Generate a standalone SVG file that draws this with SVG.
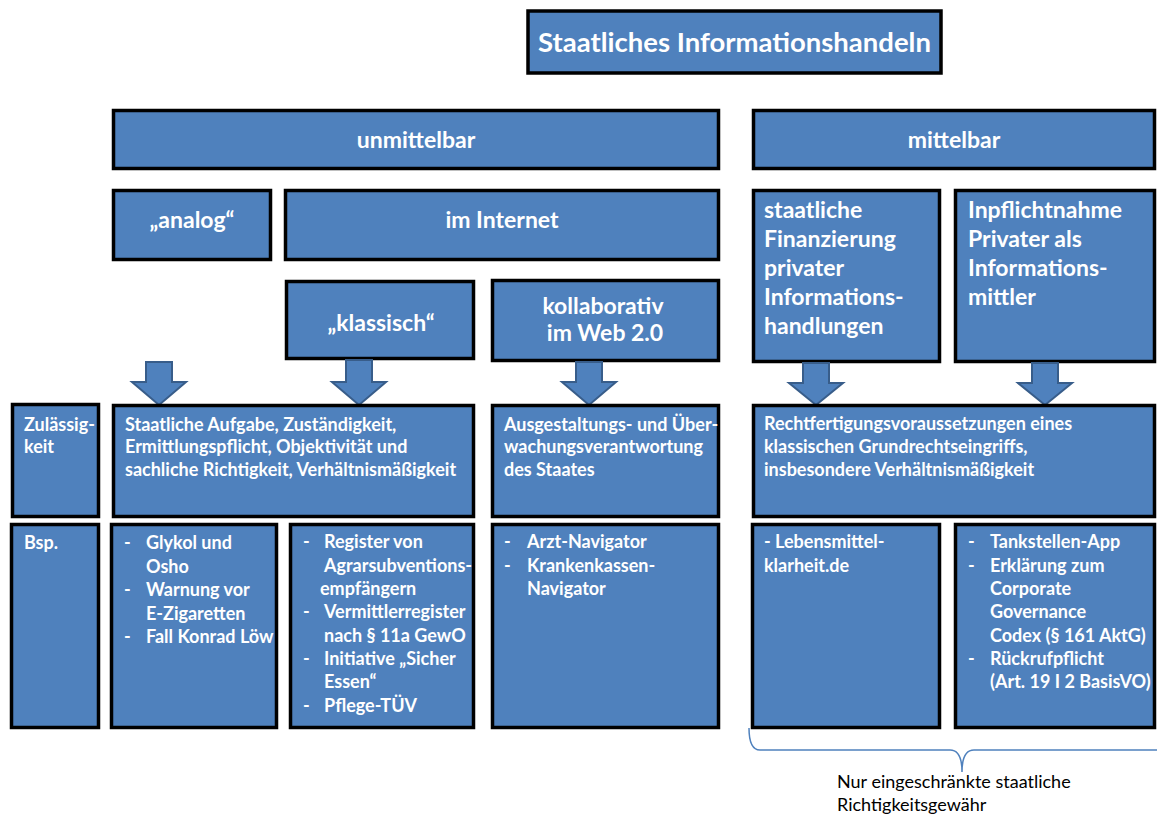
<svg xmlns="http://www.w3.org/2000/svg" width="1157" height="816" viewBox="0 0 1157 816">
  <defs>
    <style>
      .box { fill: #4F81BD; stroke: #000; stroke-width: 3.5; }
      .arrow { fill: #4F81BD; stroke: #385D8A; stroke-width: 2; stroke-linejoin: miter; }
      text { font-family: Lato, "Open Sans", sans-serif; font-weight: bold; fill: #fff; }
      .h1 { font-size: 27.5px; }
      .h2 { font-size: 23px; }
      .h3 { font-size: 23px; }
      .t { font-size: 18px; }
      .c { text-anchor: middle; }
      .note { font-weight: normal; fill: #000; font-size: 18px; }
      .brace { fill: none; stroke: #4F81BD; stroke-width: 1.5; }
    </style>
  </defs>
  <rect width="1157" height="816" fill="#fff"/>

  <g id="title">
    <rect class="box" x="528" y="11" width="413" height="62"/>
    <text class="h1 c" x="734.5" y="52">Staatliches Informationshandeln</text>
  </g>

  <g id="unmittelbar">
    <rect class="box" x="113.5" y="110.5" width="605" height="58"/>
    <text class="h2 c" x="416" y="148">unmittelbar</text>
  </g>
  <g id="mittelbar">
    <rect class="box" x="753.5" y="110.5" width="401" height="58"/>
    <text class="h2 c" x="954" y="148">mittelbar</text>
  </g>

  <g id="analog">
    <rect class="box" x="113.5" y="190.5" width="157" height="69"/>
    <text class="h2 c" x="192" y="228">„analog“</text>
  </g>
  <g id="internet">
    <rect class="box" x="285.5" y="190.5" width="433" height="69"/>
    <text class="h2 c" x="502" y="228">im Internet</text>
  </g>

  <g id="finanzierung">
    <rect class="box" x="753.5" y="190.5" width="186" height="171"/>
    <text class="h3">
      <tspan x="764" y="218">staatliche</tspan>
      <tspan x="764" y="247">Finanzierung</tspan>
      <tspan x="764" y="276">privater</tspan>
      <tspan x="764" y="305">Informations-</tspan>
      <tspan x="764" y="334">handlungen</tspan>
    </text>
  </g>
  <g id="inpflichtnahme">
    <rect class="box" x="955.5" y="190.5" width="199" height="171"/>
    <text class="h3">
      <tspan x="968" y="218">Inpflichtnahme</tspan>
      <tspan x="968" y="247">Privater als</tspan>
      <tspan x="968" y="276">Informations-</tspan>
      <tspan x="968" y="305">mittler</tspan>
    </text>
  </g>

  <g id="klassisch">
    <rect class="box" x="286.5" y="281.5" width="187" height="77"/>
    <text class="h3 c" x="381" y="331">„klassisch“</text>
  </g>
  <g id="kollaborativ">
    <rect class="box" x="492.5" y="280.5" width="226" height="80"/>
    <text class="h3 c" x="603" y="314">kollaborativ</text>
    <text class="h3 c" x="605" y="341">im Web 2.0</text>
  </g>

  <!-- block arrows leading into the admissibility row -->
  <g id="connectors">
    <polygon class="arrow" points="146,362 172,362 172,382 186,382 159,405 132,382 146,382"/>
    <polygon class="arrow" points="346,360 372,360 372,382 386,382 359,405 332,382 346,382"/>
    <polygon class="arrow" points="576,362 602,362 602,382 616,382 589,405 562,382 576,382"/>
    <polygon class="arrow" points="803,363 829,363 829,383 843,383 816,405 789,383 803,383"/>
    <polygon class="arrow" points="1032,363 1058,363 1058,383 1072,383 1045,405 1018,383 1032,383"/>
  </g>

  <g id="zulaessigkeit">
    <rect class="box" x="12.5" y="404.5" width="86" height="112"/>
    <text class="t"><tspan x="24" y="431">Zulässig-</tspan><tspan x="24" y="453">keit</tspan></text>
  </g>
  <g id="zul-unmittelbar">
    <rect class="box" x="113.5" y="405.5" width="360" height="111"/>
    <text class="t">
      <tspan x="125" y="431">Staatliche Aufgabe, Zuständigkeit,</tspan>
      <tspan x="125" y="453">Ermittlungspflicht, Objektivität und</tspan>
      <tspan x="125" y="476">sachliche Richtigkeit, Verhältnismäßigkeit</tspan>
    </text>
  </g>
  <g id="zul-kollaborativ">
    <rect class="box" x="492.5" y="405.5" width="226" height="111"/>
    <text class="t">
      <tspan x="504" y="431">Ausgestaltungs- und Über-</tspan>
      <tspan x="504" y="453">wachungsverantwortung</tspan>
      <tspan x="504" y="476">des Staates</tspan>
    </text>
  </g>
  <g id="zul-mittelbar">
    <rect class="box" x="753.5" y="405.5" width="401" height="111"/>
    <text class="t">
      <tspan x="764" y="430">Rechtfertigungsvoraussetzungen eines</tspan>
      <tspan x="764" y="453">klassischen Grundrechtseingriffs,</tspan>
      <tspan x="764" y="476">insbesondere Verhältnismäßigkeit</tspan>
    </text>
  </g>

  <g id="bsp">
    <rect class="box" x="11.5" y="524.5" width="87" height="203"/>
    <text class="t" x="24" y="549">Bsp.</text>
  </g>
  <g id="bsp-analog">
    <rect class="box" x="111.5" y="524.5" width="165" height="203"/>
    <text class="t">
      <tspan x="124" y="549">-</tspan><tspan x="146" y="549">Glykol und</tspan>
      <tspan x="146" y="572.5">Osho</tspan>
      <tspan x="124" y="596">-</tspan><tspan x="146" y="596">Warnung vor</tspan>
      <tspan x="146" y="619.5">E-Zigaretten</tspan>
      <tspan x="124" y="643">-</tspan><tspan x="146" y="643">Fall Konrad Löw</tspan>
    </text>
  </g>
  <g id="bsp-klassisch">
    <rect class="box" x="290.5" y="524.5" width="183" height="203"/>
    <text class="t">
      <tspan x="303" y="548">-</tspan><tspan x="324" y="548">Register von</tspan>
      <tspan x="324" y="572">Agrarsubventions-</tspan>
      <tspan x="320" y="595">empfängern</tspan>
      <tspan x="303" y="618">-</tspan><tspan x="324" y="618">Vermittlerregister</tspan>
      <tspan x="324" y="642">nach § 11a GewO</tspan>
      <tspan x="303" y="665">-</tspan><tspan x="324" y="665">Initiative „Sicher</tspan>
      <tspan x="324" y="688">Essen“</tspan>
      <tspan x="303" y="712">-</tspan><tspan x="324" y="712">Pflege-TÜV</tspan>
    </text>
  </g>
  <g id="bsp-kollaborativ">
    <rect class="box" x="492.5" y="524.5" width="226" height="203"/>
    <text class="t">
      <tspan x="504" y="548">-</tspan><tspan x="527" y="548">Arzt-Navigator</tspan>
      <tspan x="504" y="572">-</tspan><tspan x="527" y="572">Krankenkassen-</tspan>
      <tspan x="527" y="595">Navigator</tspan>
    </text>
  </g>
  <g id="bsp-finanzierung">
    <rect class="box" x="752.5" y="524.5" width="187" height="203"/>
    <text class="t">
      <tspan x="764" y="548">- Lebensmittel-</tspan>
      <tspan x="764" y="572">klarheit.de</tspan>
    </text>
  </g>
  <g id="bsp-inpflichtnahme">
    <rect class="box" x="955.5" y="524.5" width="199" height="203"/>
    <text class="t">
      <tspan x="968" y="548">-</tspan><tspan x="990" y="548">Tankstellen-App</tspan>
      <tspan x="968" y="572">-</tspan><tspan x="990" y="572">Erklärung zum</tspan>
      <tspan x="990" y="595">Corporate</tspan>
      <tspan x="990" y="618">Governance</tspan>
      <tspan x="990" y="642">Codex (§ 161 AktG)</tspan>
      <tspan x="968" y="665">-</tspan><tspan x="990" y="665">Rückrufpflicht</tspan>
      <tspan x="990" y="688">(Art. 19 I 2 BasisVO)</tspan>
    </text>
  </g>

  <g id="hinweis">
    <path class="brace" d="M749,728 Q749,750 760,750 L950,750 Q962,750 962,772 Q962,750 974,750 L1160,750"/>
    <text class="note"><tspan x="837" y="788">Nur eingeschränkte staatliche</tspan><tspan x="837" y="811">Richtigkeitsgewähr</tspan></text>
  </g>
</svg>
